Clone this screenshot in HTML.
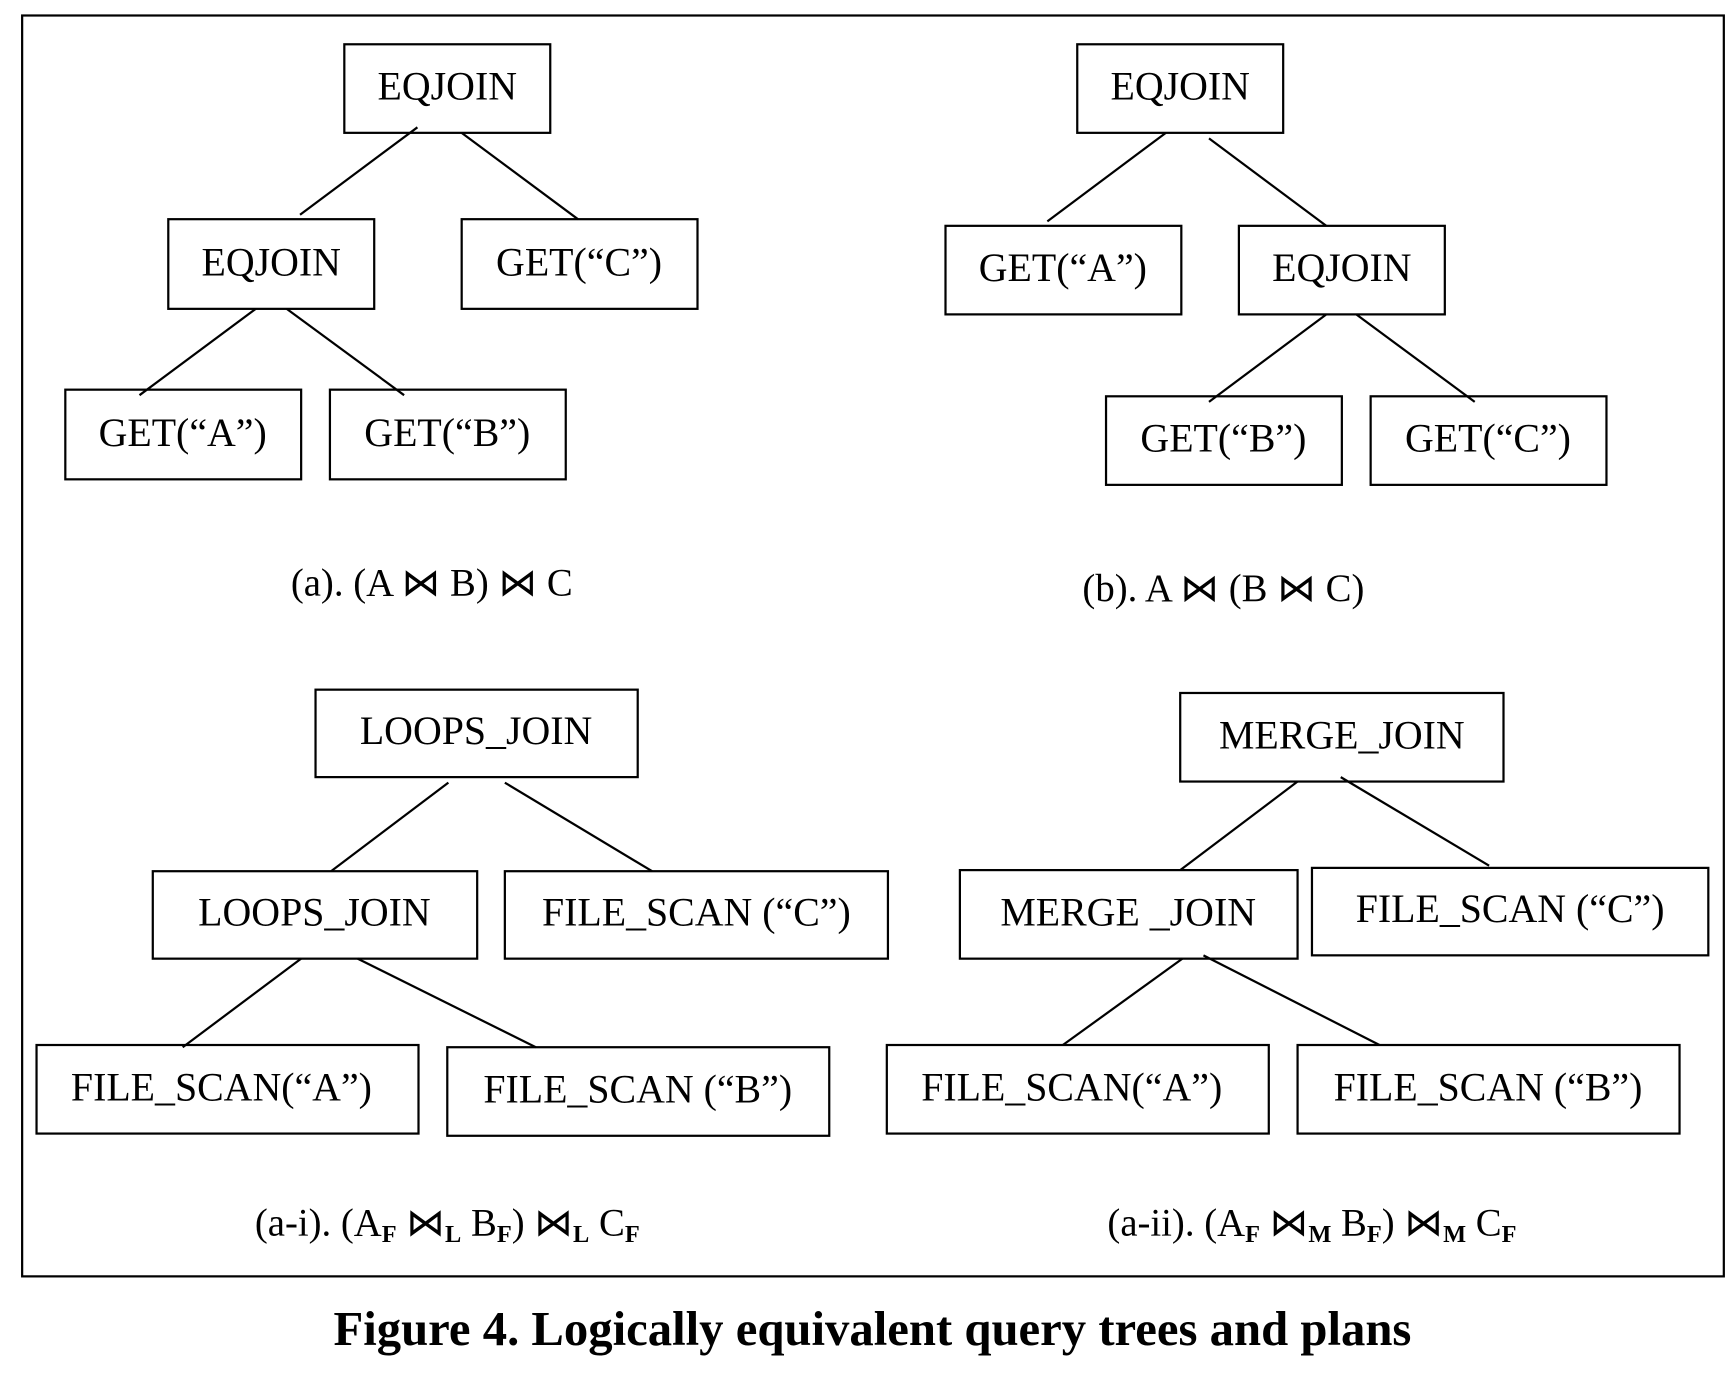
<!DOCTYPE html>
<html><head><style>html,body{margin:0;padding:0;background:#fff}svg{display:block}</style></head>
<body>
<svg width="1736" height="1376" viewBox="0 0 1568 1243" preserveAspectRatio="none" xmlns="http://www.w3.org/2000/svg" font-family="Liberation Serif, serif">
<rect x="20" y="14" width="1537" height="1139" fill="none" stroke="#000" stroke-width="2"/>
<g fill="none" stroke="#000" stroke-width="2">
<rect x="311" y="40" width="186" height="80"/><rect x="152" y="198" width="186" height="81"/><rect x="417" y="198" width="213" height="81"/><rect x="59" y="352" width="213" height="81"/><rect x="298" y="352" width="213" height="81"/>
<line x1="377" y1="115" x2="271" y2="194"/><line x1="417" y1="120" x2="522" y2="198"/><line x1="231" y1="279" x2="126" y2="357"/><line x1="259" y1="279" x2="365" y2="357"/>
<rect x="973" y="40" width="186" height="80"/><rect x="854" y="204" width="213" height="80"/><rect x="1119" y="204" width="186" height="80"/><rect x="999" y="358" width="213" height="80"/><rect x="1238" y="358" width="213" height="80"/>
<line x1="1053" y1="120" x2="946" y2="200"/><line x1="1092" y1="125" x2="1198" y2="204"/><line x1="1198" y1="284" x2="1092" y2="363"/><line x1="1225" y1="284" x2="1332" y2="363"/>
<rect x="285" y="623" width="291" height="79"/><rect x="138" y="787" width="293" height="79"/><rect x="456" y="787" width="346" height="79"/><rect x="33" y="944" width="345" height="80"/><rect x="404" y="946" width="345" height="80"/>
<line x1="405" y1="707" x2="299" y2="787"/><line x1="456" y1="707" x2="589" y2="787"/><line x1="272" y1="866" x2="165" y2="946"/><line x1="323" y1="866" x2="484" y2="946"/>
<rect x="1066" y="626" width="292" height="80"/><rect x="867" y="786" width="305" height="80"/><rect x="1185" y="784" width="358" height="79"/><rect x="801" y="944" width="345" height="80"/><rect x="1172" y="944" width="345" height="80"/>
<line x1="1172" y1="706" x2="1066" y2="786"/><line x1="1211" y1="702" x2="1345" y2="782"/><line x1="1068" y1="866" x2="960" y2="944"/><line x1="1087" y1="863" x2="1246" y2="944"/>
</g>
<g font-size="36" text-anchor="middle" fill="#000">
<text x="404" y="90">EQJOIN</text><text x="245" y="249">EQJOIN</text><text x="523" y="249">GET(“C”)</text><text x="165" y="403">GET(“A”)</text><text x="404" y="403">GET(“B”)</text>
<text x="1066" y="90">EQJOIN</text><text x="960" y="254">GET(“A”)</text><text x="1212" y="254">EQJOIN</text><text x="1105" y="408">GET(“B”)</text><text x="1344" y="408">GET(“C”)</text>
<text x="430" y="672">LOOPS_JOIN</text><text x="284" y="836">LOOPS_JOIN</text><text x="629" y="836">FILE_SCAN (“C”)</text><text x="200" y="994">FILE_SCAN(“A”)</text><text x="576" y="996">FILE_SCAN (“B”)</text>
<text x="1212" y="676">MERGE_JOIN</text><text x="1019" y="836">MERGE _JOIN</text><text x="1364" y="833">FILE_SCAN (“C”)</text><text x="968" y="994">FILE_SCAN(“A”)</text><text x="1344" y="994">FILE_SCAN (“B”)</text>
</g>
<g font-size="35" text-anchor="middle" fill="#000">
<text x="390" y="538">(a). (A ⋈ B) ⋈ C</text>
<text x="1105" y="543">(b). A ⋈ (B ⋈ C)</text>
<text x="404" y="1116">(a-i). (A<tspan font-size="22" font-weight="bold" dy="6">F</tspan><tspan dy="-6"> ⋈</tspan><tspan font-size="22" font-weight="bold" dy="6">L</tspan><tspan dy="-6"> B</tspan><tspan font-size="22" font-weight="bold" dy="6">F</tspan><tspan dy="-6">) ⋈</tspan><tspan font-size="22" font-weight="bold" dy="6">L</tspan><tspan dy="-6"> C</tspan><tspan font-size="22" font-weight="bold" dy="6">F</tspan></text>
<text x="1185" y="1116">(a-ii). (A<tspan font-size="22" font-weight="bold" dy="6">F</tspan><tspan dy="-6"> ⋈</tspan><tspan font-size="22" font-weight="bold" dy="6">M</tspan><tspan dy="-6"> B</tspan><tspan font-size="22" font-weight="bold" dy="6">F</tspan><tspan dy="-6">) ⋈</tspan><tspan font-size="22" font-weight="bold" dy="6">M</tspan><tspan dy="-6"> C</tspan><tspan font-size="22" font-weight="bold" dy="6">F</tspan></text>
</g>
<text x="788" y="1215" font-size="44" font-weight="bold" text-anchor="middle">Figure 4. Logically equivalent query trees and plans</text>
</svg>
</body></html>
